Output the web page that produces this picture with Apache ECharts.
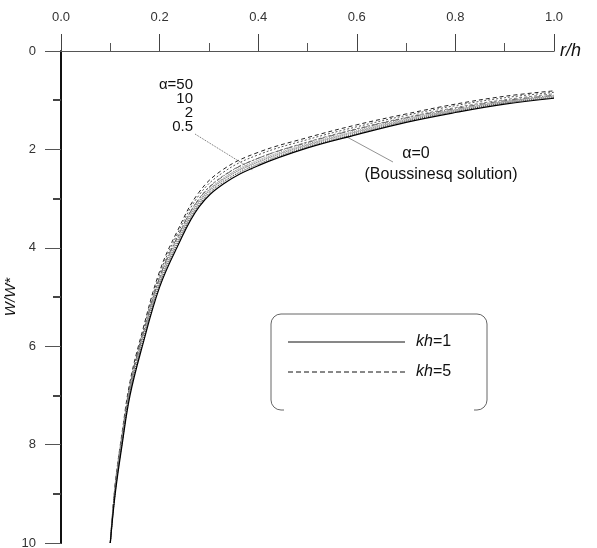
<!DOCTYPE html>
<html><head><meta charset="utf-8">
<script src="https://cdn.jsdelivr.net/npm/echarts@6/dist/echarts.min.js"></script>
<style>html,body{margin:0;padding:0;background:#fff}#c{width:597px;height:548px}</style>
</head><body><div id="c"></div>
<script>
// r/h sample positions
var rValues = [0.1, 0.11, 0.124, 0.14, 0.165, 0.2, 0.235, 0.28, 0.33, 0.4, 0.5, 0.6, 0.7, 0.8, 0.9, 1.0];
// W/W* values
var alpha0  = [10.0, 9.0, 8.0, 7.0, 6.0, 4.8, 4.0, 3.17, 2.7, 2.33, 1.97, 1.70, 1.45, 1.25, 1.08, 0.96];
var kh1_a05 = [10.0, 8.95, 7.95, 6.95, 5.95, 4.75, 3.95, 3.13, 2.66, 2.30, 1.95, 1.68, 1.43, 1.23, 1.06, 0.95];
var kh1_a2  = [10.0, 8.9, 7.9, 6.9, 5.9, 4.7, 3.9, 3.09, 2.62, 2.26, 1.92, 1.65, 1.41, 1.21, 1.05, 0.94];
var kh1_a10 = [10.0, 8.85, 7.85, 6.85, 5.85, 4.65, 3.85, 3.05, 2.58, 2.22, 1.89, 1.62, 1.38, 1.19, 1.03, 0.92];
var kh1_a50 = [10.0, 8.8, 7.8, 6.8, 5.8, 4.6, 3.8, 3.01, 2.54, 2.18, 1.86, 1.59, 1.36, 1.17, 1.01, 0.90];
var kh5_a05 = [10.0, 8.95, 7.93, 6.92, 5.9, 4.7, 3.9, 3.07, 2.6, 2.25, 1.91, 1.64, 1.40, 1.20, 1.03, 0.91];
var kh5_a2  = [10.0, 8.9, 7.87, 6.85, 5.83, 4.62, 3.82, 3.0, 2.53, 2.18, 1.85, 1.58, 1.35, 1.15, 0.99, 0.87];
var kh5_a10 = [10.0, 8.85, 7.8, 6.78, 5.75, 4.54, 3.74, 2.93, 2.46, 2.11, 1.80, 1.54, 1.31, 1.11, 0.95, 0.84];
var kh5_a50 = [10.0, 8.8, 7.75, 6.72, 5.7, 4.48, 3.68, 2.87, 2.4, 2.06, 1.76, 1.50, 1.28, 1.08, 0.92, 0.81];
var xTickLabels = ['0.0', '0.2', '0.4', '0.6', '0.8', '1.0'];
var yTickLabels = ['0', '2', '4', '6', '8', '10'];
var alphaLabels = ['\u03b1=50', '10', '2', '0.5'];

function pts(ys){ return rValues.map(function(r,i){ return [r, ys[i]]; }); }
function mk(name, ys, color, type, w){
  return {name:name, type:'line', data:pts(ys), smooth:0.4, symbol:'none',
    lineStyle:{color:color, width:w||1, type:type}, z:3, silent:true};
}
var FONT = '"Liberation Sans", Arial, sans-serif';
var chart = echarts.init(document.getElementById('c'));
chart.setOption({
  animation:false,
  backgroundColor:'#fff',
  grid:{left:61, top:51, width:493, height:492, containLabel:false, outerBoundsMode:'none'},
  xAxis:[{
    type:'value', position:'top', min:0, max:1, interval:0.2,
    axisLine:{show:true, lineStyle:{color:'#666', width:1}},
    axisTick:{show:true, length:17, lineStyle:{color:'#444', width:1}},
    minorTick:{show:true, splitNumber:2, length:8, lineStyle:{color:'#555', width:1}},
    splitLine:{show:false},
    axisLabel:{margin:27, fontSize:13, color:'#333', fontFamily:FONT,
      formatter:function(v){ return xTickLabels[Math.round(v/0.2)]; }},
    name:'r/h', nameLocation:'end', nameGap:6,
    nameTextStyle:{fontSize:18, fontStyle:'italic', color:'#111', fontFamily:FONT, verticalAlign:'middle', padding:[34,0,0,0]}
  },{
    type:'value', position:'bottom', min:0, max:1,
    axisLine:{show:true, lineStyle:{color:'#555', width:1}},
    axisTick:{show:false}, axisLabel:{show:false}, splitLine:{show:false}
  }],
  yAxis:[{
    type:'value', inverse:true, min:0, max:10, interval:2,
    axisLine:{show:true, lineStyle:{color:'#111', width:1}},
    axisTick:{show:true, length:16, lineStyle:{color:'#555', width:1}},
    minorTick:{show:true, splitNumber:2, length:8, lineStyle:{color:'#444', width:2}},
    splitLine:{show:false},
    axisLabel:{margin:25, fontSize:13, color:'#333', fontFamily:FONT,
      formatter:function(v){ return yTickLabels[Math.round(v/2)]; }},
    name:'W/W*', nameLocation:'middle', nameGap:43, nameRotate:90, nameMoveOverlap:false,
    nameTextStyle:{fontSize:15, fontStyle:'italic', color:'#111', fontFamily:FONT}
  },{
    type:'value', inverse:true, min:0, max:10, position:'right',
    axisLine:{show:true, lineStyle:{color:'#111', width:2}},
    axisTick:{show:false}, axisLabel:{show:false}, splitLine:{show:false}
  }],
  series:[
    mk('kh5 a50', kh5_a50, '#222', [4,3], 1),
    mk('kh5 a10', kh5_a10, '#555', [2,2], 1),
    mk('kh5 a2', kh5_a2, '#777', [3,2], 1),
    mk('kh5 a05', kh5_a05, '#999', [1,1], 1.2),
    mk('kh1 a50', kh1_a50, '#666', [6,2,1,2], 1),
    mk('kh1 a10', kh1_a10, '#888', [1,1], 1),
    mk('kh1 a2', kh1_a2, '#999', [1,1], 1.5),
    mk('kh1 a05', kh1_a05, '#333', [1,1], 1),
    mk('a0', alpha0, '#000', 'solid', 1.2)
  ],
  graphic:[
    {type:'text', x:193, y:85, style:{text:alphaLabels[0], fill:'#111', font:'15px '+FONT, align:'right', verticalAlign:'middle'}},
    {type:'text', x:193, y:99, style:{text:alphaLabels[1], fill:'#111', font:'15px '+FONT, align:'right', verticalAlign:'middle'}},
    {type:'text', x:193, y:113, style:{text:alphaLabels[2], fill:'#111', font:'15px '+FONT, align:'right', verticalAlign:'middle'}},
    {type:'text', x:193, y:127, style:{text:alphaLabels[3], fill:'#111', font:'15px '+FONT, align:'right', verticalAlign:'middle'}},
    {type:'line', shape:{x1:195, y1:134, x2:253, y2:170}, style:{stroke:'#444', lineWidth:0.8, lineDash:[1,1]}},
    {type:'text', x:416, y:154, style:{text:'\u03b1=0', fill:'#111', font:'16px '+FONT, align:'center', verticalAlign:'middle'}},
    {type:'text', x:441, y:175, style:{text:'(Boussinesq solution)', fill:'#111', font:'16px '+FONT, align:'center', verticalAlign:'middle'}},
    {type:'line', shape:{x1:347, y1:137, x2:393, y2:162}, style:{stroke:'#777', lineWidth:0.8}},
    // legend box
    {type:'rect', shape:{x:271, y:314, width:216, height:96, r:10}, style:{fill:'none', stroke:'#666', lineWidth:1}},
    {type:'rect', shape:{x:284, y:407, width:190, height:6}, style:{fill:'#fff', stroke:'none'}},
    {type:'line', shape:{x1:288, y1:342, x2:405, y2:342}, style:{stroke:'#111', lineWidth:1}},
    {type:'line', shape:{x1:288, y1:372, x2:405, y2:372}, style:{stroke:'#111', lineWidth:1, lineDash:[5,3]}},
    {type:'text', x:416, y:342, style:{rich:{i:{fontStyle:'italic', fontSize:16, fontFamily:FONT, fill:'#111'}, n:{fontSize:16, fontFamily:FONT, fill:'#111'}}, text:'{i|kh}{n|=1}', verticalAlign:'middle'}},
    {type:'text', x:416, y:372, style:{rich:{i:{fontStyle:'italic', fontSize:16, fontFamily:FONT, fill:'#111'}, n:{fontSize:16, fontFamily:FONT, fill:'#111'}}, text:'{i|kh}{n|=5}', verticalAlign:'middle'}}
  ]
});
</script></body></html>
